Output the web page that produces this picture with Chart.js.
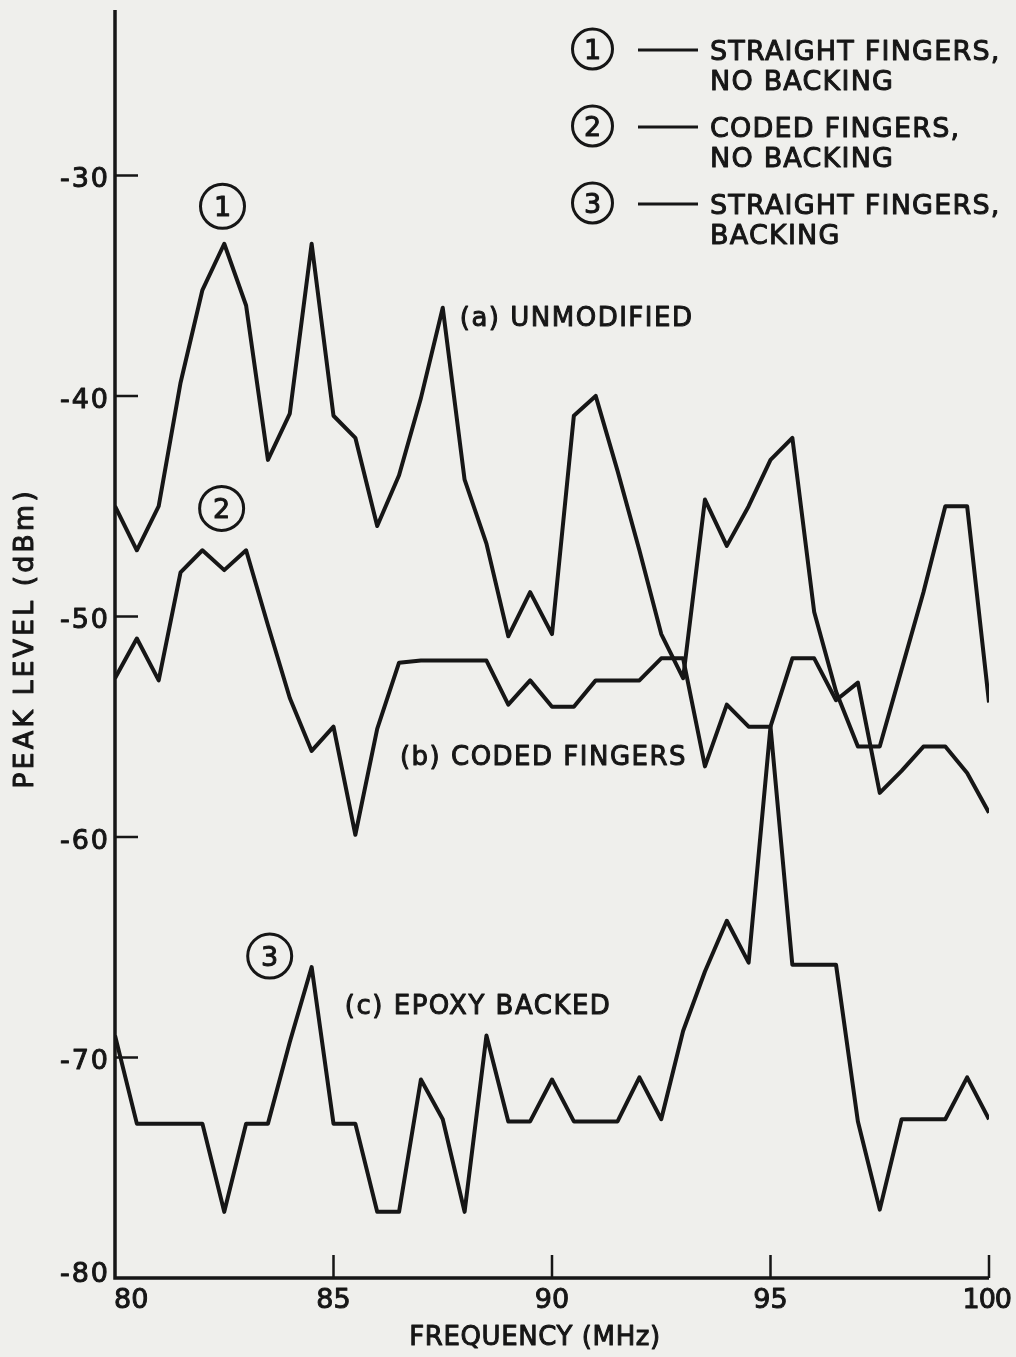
<!DOCTYPE html>
<html lang="en">
<head>
    <meta charset="UTF-8">
    <title>Peak level vs frequency</title>
    <script src="https://cdn.jsdelivr.net/npm/chart.js"></script>
    <style>
        body {
            margin: 0;
            background-color: #efefec;
        }
        #wrap {
            width: 1016px;
            height: 1357px;
        }
    </style>
</head>
<body>

<div id="wrap"><canvas id="chart" width="1016" height="1357"></canvas></div>

<script>
    // frequency samples (MHz), every 0.5 MHz
    const freq = [80, 80.5, 81, 81.5, 82, 82.5, 83, 83.5, 84, 84.5,
                  85, 85.5, 86, 86.5, 87, 87.5, 88, 88.5, 89, 89.5,
                  90, 90.5, 91, 91.5, 92, 92.5, 93, 93.5, 94, 94.5,
                  95, 95.5, 96, 96.5, 97, 97.5, 98, 98.5, 99, 99.5, 100];

    // (1) straight fingers, no backing  -> (a) unmodified
    const straightNoBacking = [-45.0, -47.0, -45.0, -39.4, -35.2, -33.1, -35.9, -42.9, -40.8, -33.1,
                               -40.9, -41.9, -45.9, -43.6, -40.1, -36.0, -43.8, -46.7, -50.9, -48.9,
                               -50.8, -40.9, -40.0, -43.4, -47.0, -50.8, -52.8, -44.7, -46.8, -45.0,
                               -42.9, -41.9, -49.8, -53.4, -55.9, -55.9, -52.4, -48.9, -45.0, -45.0, -53.9];

    // (2) coded fingers, no backing
    const codedNoBacking = [-52.8, -51.0, -52.9, -48.0, -47.0, -47.9, -47.0, -50.4, -53.7, -56.1,
                            -55.0, -59.9, -55.1, -52.1, -52.0, -52.0, -52.0, -52.0, -54.0, -52.9,
                            -54.1, -54.1, -52.9, -52.9, -52.9, -51.9, -51.9, -56.8, -54.0, -55.0,
                            -55.0, -51.9, -51.9, -53.8, -53.0, -58.0, -57.0, -55.9, -55.9, -57.1, -58.9];

    // (3) straight fingers, backing -> (c) epoxy backed
    const straightBacking = [-69.0, -73.0, -73.0, -73.0, -73.0, -77.0, -73.0, -73.0, -69.3, -65.9,
                             -73.0, -73.0, -77.0, -77.0, -71.0, -72.8, -77.0, -69.0, -72.9, -72.9,
                             -71.0, -72.9, -72.9, -72.9, -70.9, -72.8, -68.8, -66.1, -63.8, -65.7,
                             -55.0, -65.8, -65.8, -65.8, -72.9, -76.9, -72.8, -72.8, -72.8, -70.9, -72.8];

    const xTicks = [80, 85, 90, 95, 100];
    const yTicks = [-30, -40, -50, -60, -70, -80];
    const xTitle = 'FREQUENCY (MHz)';
    const yTitle = 'PEAK LEVEL (dBm)';
    const legendLines = [
        ['STRAIGHT FINGERS,', 'NO BACKING'],
        ['CODED FINGERS,', 'NO BACKING'],
        ['STRAIGHT FINGERS,', 'BACKING']
    ];
    const panelLabels = ['(a) UNMODIFIED', '(b) CODED FINGERS', '(c) EPOXY BACKED'];

    const ink = '#161616';
    const face = '"DejaVu Sans", sans-serif';

    // text with its cap height centred on cy; a thin stroke gives the pen weight
    function label(ctx, str, x, cy, size, align, spacing) {
        ctx.font = size + 'px ' + face;
        ctx.letterSpacing = (spacing || 0) + 'px';
        ctx.textAlign = align || 'left';
        ctx.textBaseline = 'alphabetic';
        ctx.lineWidth = 1;
        ctx.lineJoin = 'round';
        ctx.fillText(str, x, cy + size * 0.365);
        ctx.strokeText(str, x, cy + size * 0.365);
    }

    function circled(ctx, x, y, r, str) {
        ctx.beginPath();
        ctx.lineWidth = 3;
        ctx.arc(x, y, r, 0, Math.PI * 2);
        ctx.stroke();
        label(ctx, str, x, y, 27, 'center', 0);
    }

    const paperPlugin = {
        id: 'paper',
        beforeDraw(chart) {
            const ctx = chart.ctx;
            ctx.save();
            ctx.fillStyle = '#efefec';
            ctx.fillRect(0, 0, chart.width, chart.height);
            ctx.restore();
        },
        afterDraw(chart) {
            const { ctx, chartArea: a, scales: { x, y } } = chart;
            ctx.save();
            ctx.strokeStyle = ink;
            ctx.fillStyle = ink;

            // axes
            ctx.lineWidth = 3.5;
            ctx.beginPath();
            ctx.moveTo(a.left, a.top);
            ctx.lineTo(a.left, a.bottom);
            ctx.lineTo(a.right, a.bottom);
            ctx.stroke();

            // inward tick marks
            ctx.lineWidth = 2.5;
            ctx.beginPath();
            yTicks.forEach(v => {
                if (v === y.min) return;
                const py = y.getPixelForValue(v);
                ctx.moveTo(a.left, py);
                ctx.lineTo(a.left + 23, py);
            });
            xTicks.forEach(v => {
                if (v === x.min) return;
                const px = x.getPixelForValue(v);
                ctx.moveTo(px, a.bottom);
                ctx.lineTo(px, a.bottom - 23);
            });
            ctx.stroke();

            // tick labels
            yTicks.forEach(v => {
                const py = y.getPixelForValue(v) + (v === y.min ? -6 : 2);
                label(ctx, String(v), a.left - 5, py, 27, 'right', 2);
            });
            xTicks.forEach((v, i) => {
                const px = x.getPixelForValue(v);
                if (i === 0) label(ctx, String(v), px - 1, a.bottom + 20, 27, 'left', 0);
                else if (i === xTicks.length - 1) label(ctx, String(v), px + 22, a.bottom + 20, 27, 'right', -1);
                else label(ctx, String(v), px, a.bottom + 20, 27, 'center', 0);
            });

            // axis titles
            label(ctx, xTitle, (a.left + a.right) / 2 - 17, a.bottom + 58, 26, 'center', 0.6);
            ctx.save();
            ctx.translate(23, y.getPixelForValue(-51));
            ctx.rotate(-Math.PI / 2);
            label(ctx, yTitle, 0, 0, 27, 'center', 3);
            ctx.restore();

            // curve markers
            circled(ctx, x.getPixelForValue(82.46), y.getPixelForValue(-31.4), 22, '1');
            circled(ctx, x.getPixelForValue(82.44), y.getPixelForValue(-45.1), 22, '2');
            circled(ctx, x.getPixelForValue(83.54), y.getPixelForValue(-65.4), 22, '3');

            // panel labels
            label(ctx, panelLabels[0], x.getPixelForValue(87.89), y.getPixelForValue(-36.4), 26, 'left', 1.5);
            label(ctx, panelLabels[1], x.getPixelForValue(86.52), y.getPixelForValue(-56.3), 26, 'left', 1.5);
            label(ctx, panelLabels[2], x.getPixelForValue(85.26), y.getPixelForValue(-67.6), 26, 'left', 1.5);

            // legend, top right
            const rows = [49, 126, 203];
            rows.forEach((cy, i) => {
                circled(ctx, 592.5, cy, 20, String(i + 1));
                ctx.lineWidth = 3;
                ctx.beginPath();
                ctx.moveTo(638, cy + 1);
                ctx.lineTo(698, cy + 1);
                ctx.stroke();
                label(ctx, legendLines[i][0], 710, cy + 1, 27, 'left', 1.2);
                label(ctx, legendLines[i][1], 710, cy + 31, 27, 'left', 1.2);
            });

            ctx.restore();
        }
    };

    function series(values) {
        return {
            data: freq.map((f, i) => ({ x: f, y: values[i] })),
            borderColor: ink,
            borderWidth: 4,
            borderJoinStyle: 'round',
            pointRadius: 0,
            tension: 0,
            fill: false
        };
    }

    new Chart(document.getElementById('chart').getContext('2d'), {
        type: 'line',
        data: {
            datasets: [
                series(straightNoBacking),
                series(codedNoBacking),
                series(straightBacking)
            ]
        },
        options: {
            responsive: false,
            animation: false,
            layout: { padding: { top: 10, right: 27, left: 0, bottom: 0 } },
            plugins: {
                legend: { display: false },
                tooltip: { enabled: false }
            },
            scales: {
                x: {
                    type: 'linear',
                    min: 80,
                    max: 100,
                    grid: { display: false },
                    border: { display: false },
                    ticks: { display: false },
                    afterFit(s) { s.height = 79; }
                },
                y: {
                    min: -80,
                    max: -22.5,
                    grid: { display: false },
                    border: { display: false },
                    ticks: { display: false },
                    afterFit(s) { s.width = 115; }
                }
            }
        },
        plugins: [paperPlugin]
    });
</script>

</body>
</html>
